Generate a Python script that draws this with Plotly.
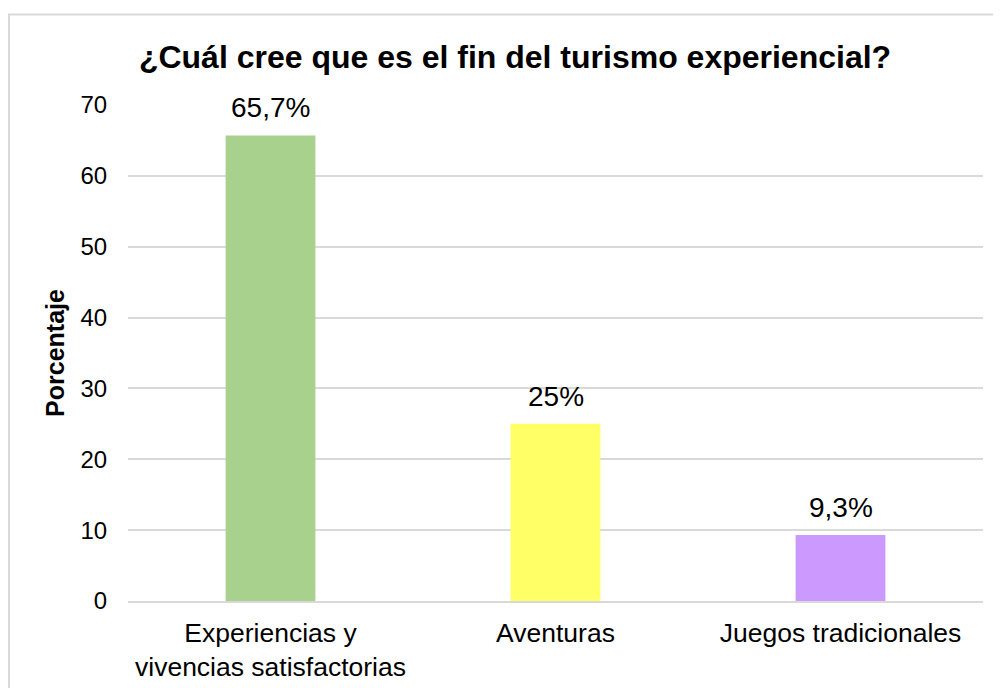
import plotly.graph_objects as go

categorias = ["Experiencias y<br>vivencias satisfactorias", "Aventuras", "Juegos tradicionales"]
porcentajes = [65.7, 25, 9.3]
etiquetas = ["65,7%", "25%", "9,3%"]
colores = ["#A9D18E", "#FFFF66", "#CC99FF"]
ticks_y = [0, 10, 20, 30, 40, 50, 60, 70]

fig = go.Figure(go.Bar(
    x=categorias, y=porcentajes,
    marker=dict(color=colores, line=dict(width=0)),
    hoverinfo="x+y",
))

# etiquetas de datos encima de cada barra
for cat, val, txt in zip(categorias, porcentajes, etiquetas):
    fig.add_annotation(x=cat, y=val, text=txt, showarrow=False,
                       yanchor="bottom", yshift=10,
                       font=dict(size=28, color="#000000"))

fig.update_layout(
    width=1001, height=688,
    margin=dict(l=120, r=26, t=97, b=95),
    paper_bgcolor="white", plot_bgcolor="white",
    font=dict(family="Liberation Sans, Arial", color="#000000"),
    title=dict(text="<b>¿Cuál cree que es el fin del turismo experiencial?</b>",
               x=507 / 1001, xanchor="center", y=1 - 49 / 688, yanchor="middle",
               font=dict(size=32, color="#000000")),
    bargap=0.685,
    showlegend=False,
)

fig.update_yaxes(
    range=[0, 70], tickvals=ticks_y,
    showgrid=True, gridcolor="#d9d9d9", gridwidth=1.5,
    zeroline=False,
    ticks="outside", ticklen=15, tickcolor="rgba(0,0,0,0)",
    tickfont=dict(size=24, color="#000000"),
    title=dict(text="<b>Porcentaje</b>", font=dict(size=25, color="#000000"), standoff=8),
)
fig.update_xaxes(
    showline=True, linecolor="#d9d9d9", linewidth=2,
    tickfont=dict(size=26.5, color="#000000"),
    ticks="outside", ticklen=7, tickcolor="rgba(0,0,0,0)",
)

# borde del área del gráfico
fig.add_shape(type="rect", xref="paper", yref="paper",
              x0=(1 - 120) / 855, x1=1.1,
              y0=-0.3, y1=(593 - 6.5) / 496,
              line=dict(color="#d9d9d9", width=2), layer="below")

fig.write_html("out.html")
